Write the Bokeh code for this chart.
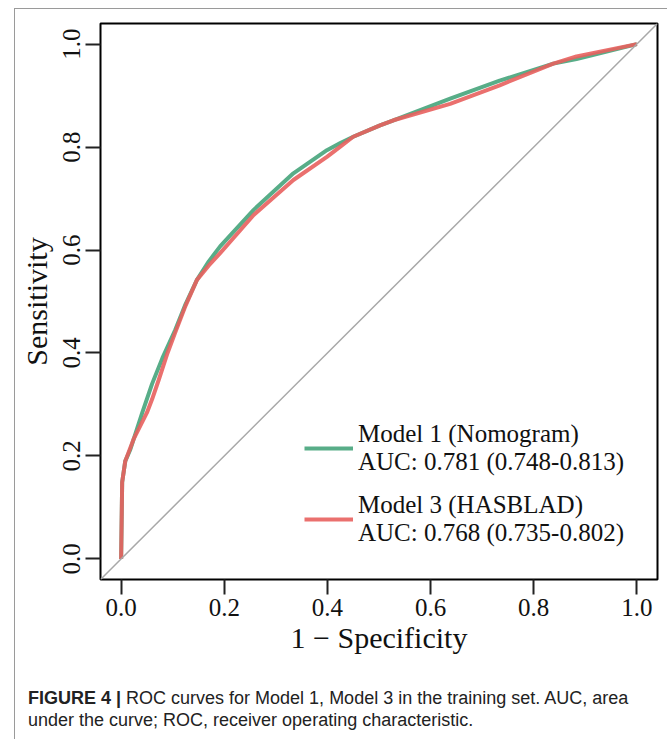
from bokeh.plotting import figure
from bokeh.models import Range1d, FixedTicker, Legend, LegendItem, Slope, Div
from bokeh.layouts import column
from bokeh.embed import file_html
from bokeh.resources import INLINE

# ---- data ----
fpr_m1 = [0, 0.002, 0.008, 0.018, 0.03, 0.041, 0.06, 0.08, 0.105, 0.125, 0.147, 0.17, 0.192, 0.257, 0.334, 0.399, 0.425, 0.45, 0.502, 0.528, 0.638, 0.734, 0.838, 0.883, 1.0]
tpr_m1 = [0, 0.149, 0.19, 0.213, 0.25, 0.284, 0.34, 0.39, 0.445, 0.495, 0.542, 0.578, 0.607, 0.678, 0.749, 0.794, 0.808, 0.82, 0.842, 0.852, 0.894, 0.929, 0.962, 0.971, 1.0]
fpr_m3 = [0, 0.002, 0.008, 0.024, 0.05, 0.06, 0.073, 0.09, 0.105, 0.125, 0.147, 0.17, 0.192, 0.257, 0.334, 0.399, 0.425, 0.45, 0.502, 0.528, 0.638, 0.734, 0.838, 0.883, 1.0]
tpr_m3 = [0, 0.149, 0.19, 0.232, 0.284, 0.31, 0.348, 0.4, 0.44, 0.492, 0.542, 0.57, 0.594, 0.668, 0.736, 0.781, 0.801, 0.82, 0.842, 0.852, 0.884, 0.920, 0.962, 0.976, 1.0]
label_m1 = "Model 1 (Nomogram)\nAUC: 0.781 (0.748-0.813)"
label_m3 = "Model 3 (HASBLAD)\nAUC: 0.768 (0.735-0.802)"
ticks = [0.0, 0.2, 0.4, 0.6, 0.8, 1.0]
tick_labels = {0.0: "0.0", 0.2: "0.2", 0.4: "0.4", 0.6: "0.6", 0.8: "0.8", 1.0: "1.0"}
caption_bold = "FIGURE 4 |"
caption_1 = "ROC curves for Model 1, Model 3 in the training set. AUC, area"
caption_2 = "under the curve; ROC, receiver operating characteristic."

SERIF = "Liberation Serif"
SANS = "Liberation Sans"

p = figure(width=652, height=650, output_backend="svg", toolbar_location=None,
           x_range=Range1d(-0.04, 1.04), y_range=Range1d(-0.04, 1.04),
           min_border_left=85, min_border_right=10, min_border_top=14, min_border_bottom=80)
p.grid.visible = False
p.outline_line_color = "black"
p.outline_line_width = 2
p.background_fill_color = "white"
p.border_fill_color = "white"

for ax in (p.xaxis[0], p.yaxis[0]):
    ax.ticker = FixedTicker(ticks=ticks)
    ax.major_label_overrides = tick_labels
    ax.axis_line_color = None
    ax.major_tick_out = 15
    ax.major_tick_in = 0
    ax.minor_tick_out = 0
    ax.minor_tick_in = 0
    ax.major_tick_line_width = 2
    ax.major_tick_line_color = "#222222"
    ax.major_label_text_font = SERIF
    ax.major_label_text_font_size = "25px"
    ax.major_label_text_color = "#111111"
    ax.axis_label_text_font = SERIF
    ax.axis_label_text_font_style = "normal"
    ax.axis_label_text_font_size = "30px"
    ax.axis_label_text_color = "#111111"

p.xaxis.axis_label = "1 \u2212 Specificity"
p.xaxis.major_label_standoff = 4
p.xaxis.axis_label_standoff = 2
p.yaxis.axis_label = "Sensitivity"
p.yaxis.major_label_orientation = "vertical"
p.yaxis.major_label_standoff = 5
p.yaxis.axis_label_standoff = 8

p.add_layout(Slope(gradient=1, y_intercept=0, line_color="#a8a8a8", line_width=1.5))

r1 = p.line(fpr_m1, tpr_m1, line_color="#58ad88", line_width=4, line_join="round")
r3 = p.line(fpr_m3, tpr_m3, line_color="#e8605e", line_width=4, line_alpha=0.9, line_join="round")

legend = Legend(items=[LegendItem(label=label_m1, renderers=[r1]),
                       LegendItem(label=label_m3, renderers=[r3])],
                location=(204, 32), border_line_color=None, background_fill_alpha=0,
                padding=0, margin=0, spacing=15, glyph_width=49, glyph_height=20,
                label_standoff=5, label_text_font=SERIF, label_text_font_size="25px",
                label_text_line_height=1.2, label_text_color="#111111")
p.add_layout(legend)

caption_html = (
    f'<div style="font-family: \'{SANS}\', Arial, sans-serif; font-size: 18px; '
    f'line-height: 22px; color: #222; padding: 28px 0 0 13px; white-space: nowrap;">'
    f'<b>{caption_bold}</b> {caption_1}<br>{caption_2}</div>'
)
caption = Div(text=caption_html, width=640, height=80, margin=(0, 0, 0, 0))

layout = column(p, caption, margin=(8, 0, 0, 14), spacing=0,
                styles={"border-left": "1px solid #9a9a9a", "border-top": "1px solid #9a9a9a"})

open("out.html", "w").write(file_html(layout, INLINE))
